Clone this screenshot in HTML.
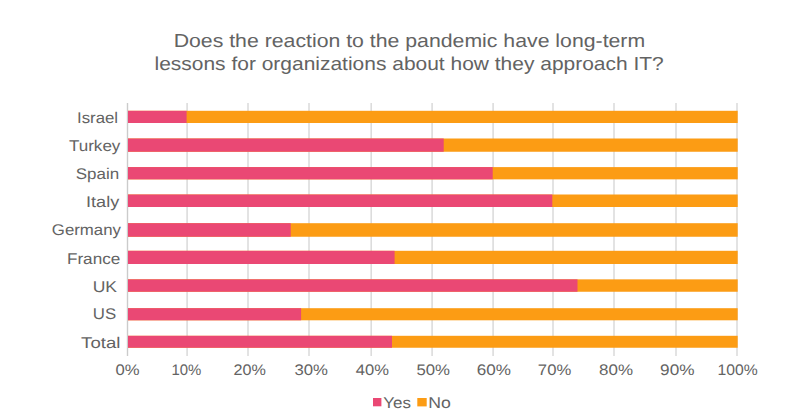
<!DOCTYPE html>
<html><head><meta charset="utf-8"><style>
html,body{margin:0;padding:0;background:#fff;width:806px;height:416px;overflow:hidden;}
svg{display:block;font-family:"Liberation Sans", sans-serif;text-rendering:geometricPrecision;}
</style></head><body>
<svg width='806' height='416' viewBox='0 0 806 416' font-family='Liberation Sans, sans-serif'>
<rect x='126.80' y='103' width='1.4' height='253' fill='#cbcbcb'/>
<rect x='186.30' y='103' width='1.6' height='253' fill='#dcdcdc'/>
<rect x='247.20' y='103' width='1.6' height='253' fill='#dcdcdc'/>
<rect x='308.20' y='103' width='1.6' height='253' fill='#dcdcdc'/>
<rect x='370.40' y='103' width='1.6' height='253' fill='#dcdcdc'/>
<rect x='431.30' y='103' width='1.6' height='253' fill='#dcdcdc'/>
<rect x='492.30' y='103' width='1.6' height='253' fill='#dcdcdc'/>
<rect x='552.20' y='103' width='1.6' height='253' fill='#dcdcdc'/>
<rect x='613.20' y='103' width='1.6' height='253' fill='#dcdcdc'/>
<rect x='675.20' y='103' width='1.6' height='253' fill='#dcdcdc'/>
<rect x='736.20' y='103' width='1.6' height='253' fill='#dcdcdc'/>
<rect x='128.0' y='110.80' width='609.70' height='12.2' fill='#FC9C14'/>
<rect x='128.0' y='110.80' width='58.60' height='12.2' fill='#EA4874'/>
<rect x='128.0' y='138.50' width='609.70' height='13.25' fill='#FC9C14'/>
<rect x='128.0' y='138.50' width='315.70' height='13.25' fill='#EA4874'/>
<rect x='128.0' y='167.10' width='609.70' height='12.25' fill='#FC9C14'/>
<rect x='128.0' y='167.10' width='364.70' height='12.25' fill='#EA4874'/>
<rect x='128.0' y='194.50' width='609.70' height='12.5' fill='#FC9C14'/>
<rect x='128.0' y='194.50' width='424.30' height='12.5' fill='#EA4874'/>
<rect x='128.0' y='223.20' width='609.70' height='13.55' fill='#FC9C14'/>
<rect x='128.0' y='223.20' width='162.70' height='13.55' fill='#EA4874'/>
<rect x='128.0' y='250.80' width='609.70' height='13.2' fill='#FC9C14'/>
<rect x='128.0' y='250.80' width='266.60' height='13.2' fill='#EA4874'/>
<rect x='128.0' y='279.35' width='609.70' height='12.4' fill='#FC9C14'/>
<rect x='128.0' y='279.35' width='449.50' height='12.4' fill='#EA4874'/>
<rect x='128.0' y='308.20' width='609.70' height='12.1' fill='#FC9C14'/>
<rect x='128.0' y='308.20' width='173.10' height='12.1' fill='#EA4874'/>
<rect x='128.0' y='335.80' width='609.70' height='11.95' fill='#FC9C14'/>
<rect x='128.0' y='335.80' width='264.00' height='11.95' fill='#EA4874'/>
<text x='76.99' y='122.90' font-size='15.5' textLength='41.11' lengthAdjust='spacingAndGlyphs' fill='#636363'>Israel</text>
<text x='68.96' y='150.70' font-size='15.5' textLength='51.42' lengthAdjust='spacingAndGlyphs' fill='#636363'>Turkey</text>
<text x='75.75' y='178.90' font-size='15.5' textLength='43.40' lengthAdjust='spacingAndGlyphs' fill='#636363'>Spain</text>
<text x='86.07' y='207.30' font-size='15.5' textLength='33.20' lengthAdjust='spacingAndGlyphs' fill='#636363'>Italy</text>
<text x='51.86' y='235.20' font-size='15.5' textLength='69.08' lengthAdjust='spacingAndGlyphs' fill='#636363'>Germany</text>
<text x='66.93' y='263.70' font-size='15.5' textLength='53.40' lengthAdjust='spacingAndGlyphs' fill='#636363'>France</text>
<text x='92.70' y='291.70' font-size='15.5' textLength='24.34' lengthAdjust='spacingAndGlyphs' fill='#636363'>UK</text>
<text x='92.75' y='319.30' font-size='15.5' textLength='23.37' lengthAdjust='spacingAndGlyphs' fill='#636363'>US</text>
<text x='81.13' y='347.70' font-size='15.5' textLength='39.23' lengthAdjust='spacingAndGlyphs' fill='#636363'>Total</text>
<text x='115.43' y='375.30' font-size='15.3' textLength='24.05' lengthAdjust='spacingAndGlyphs' fill='#636363'>0%</text>
<text x='171.51' y='375.30' font-size='15.3' textLength='29.86' lengthAdjust='spacingAndGlyphs' fill='#636363'>10%</text>
<text x='233.59' y='375.30' font-size='15.3' textLength='32.32' lengthAdjust='spacingAndGlyphs' fill='#636363'>20%</text>
<text x='294.43' y='375.30' font-size='15.3' textLength='33.50' lengthAdjust='spacingAndGlyphs' fill='#636363'>30%</text>
<text x='355.87' y='375.30' font-size='15.3' textLength='33.15' lengthAdjust='spacingAndGlyphs' fill='#636363'>40%</text>
<text x='416.43' y='375.30' font-size='15.3' textLength='33.60' lengthAdjust='spacingAndGlyphs' fill='#636363'>50%</text>
<text x='476.85' y='375.30' font-size='15.3' textLength='34.19' lengthAdjust='spacingAndGlyphs' fill='#636363'>60%</text>
<text x='537.87' y='375.30' font-size='15.3' textLength='33.36' lengthAdjust='spacingAndGlyphs' fill='#636363'>70%</text>
<text x='599.12' y='375.30' font-size='15.3' textLength='33.91' lengthAdjust='spacingAndGlyphs' fill='#636363'>80%</text>
<text x='660.14' y='375.30' font-size='15.3' textLength='34.40' lengthAdjust='spacingAndGlyphs' fill='#636363'>90%</text>
<text x='717.44' y='375.30' font-size='15.3' textLength='40.15' lengthAdjust='spacingAndGlyphs' fill='#636363'>100%</text>
<text x='173.70' y='46.50' font-size='18.8' textLength='471.47' lengthAdjust='spacingAndGlyphs' fill='#636363'>Does the reaction to the pandemic have long-term</text>
<text x='154.53' y='70.10' font-size='18.8' textLength='509.25' lengthAdjust='spacingAndGlyphs' fill='#636363'>lessons for organizations about how they approach IT?</text>
<rect x='373' y='398' width='8.4' height='8.3' fill='#EA4874'/>
<text x='383.29' y='407.70' font-size='15.6' textLength='27.64' lengthAdjust='spacingAndGlyphs' fill='#636363'>Yes</text>
<rect x='417.3' y='398' width='9.4' height='8.4' fill='#FC9C14'/>
<text x='428.19' y='407.60' font-size='15.6' textLength='22.59' lengthAdjust='spacingAndGlyphs' fill='#636363'>No</text>
</svg>
</body></html>
